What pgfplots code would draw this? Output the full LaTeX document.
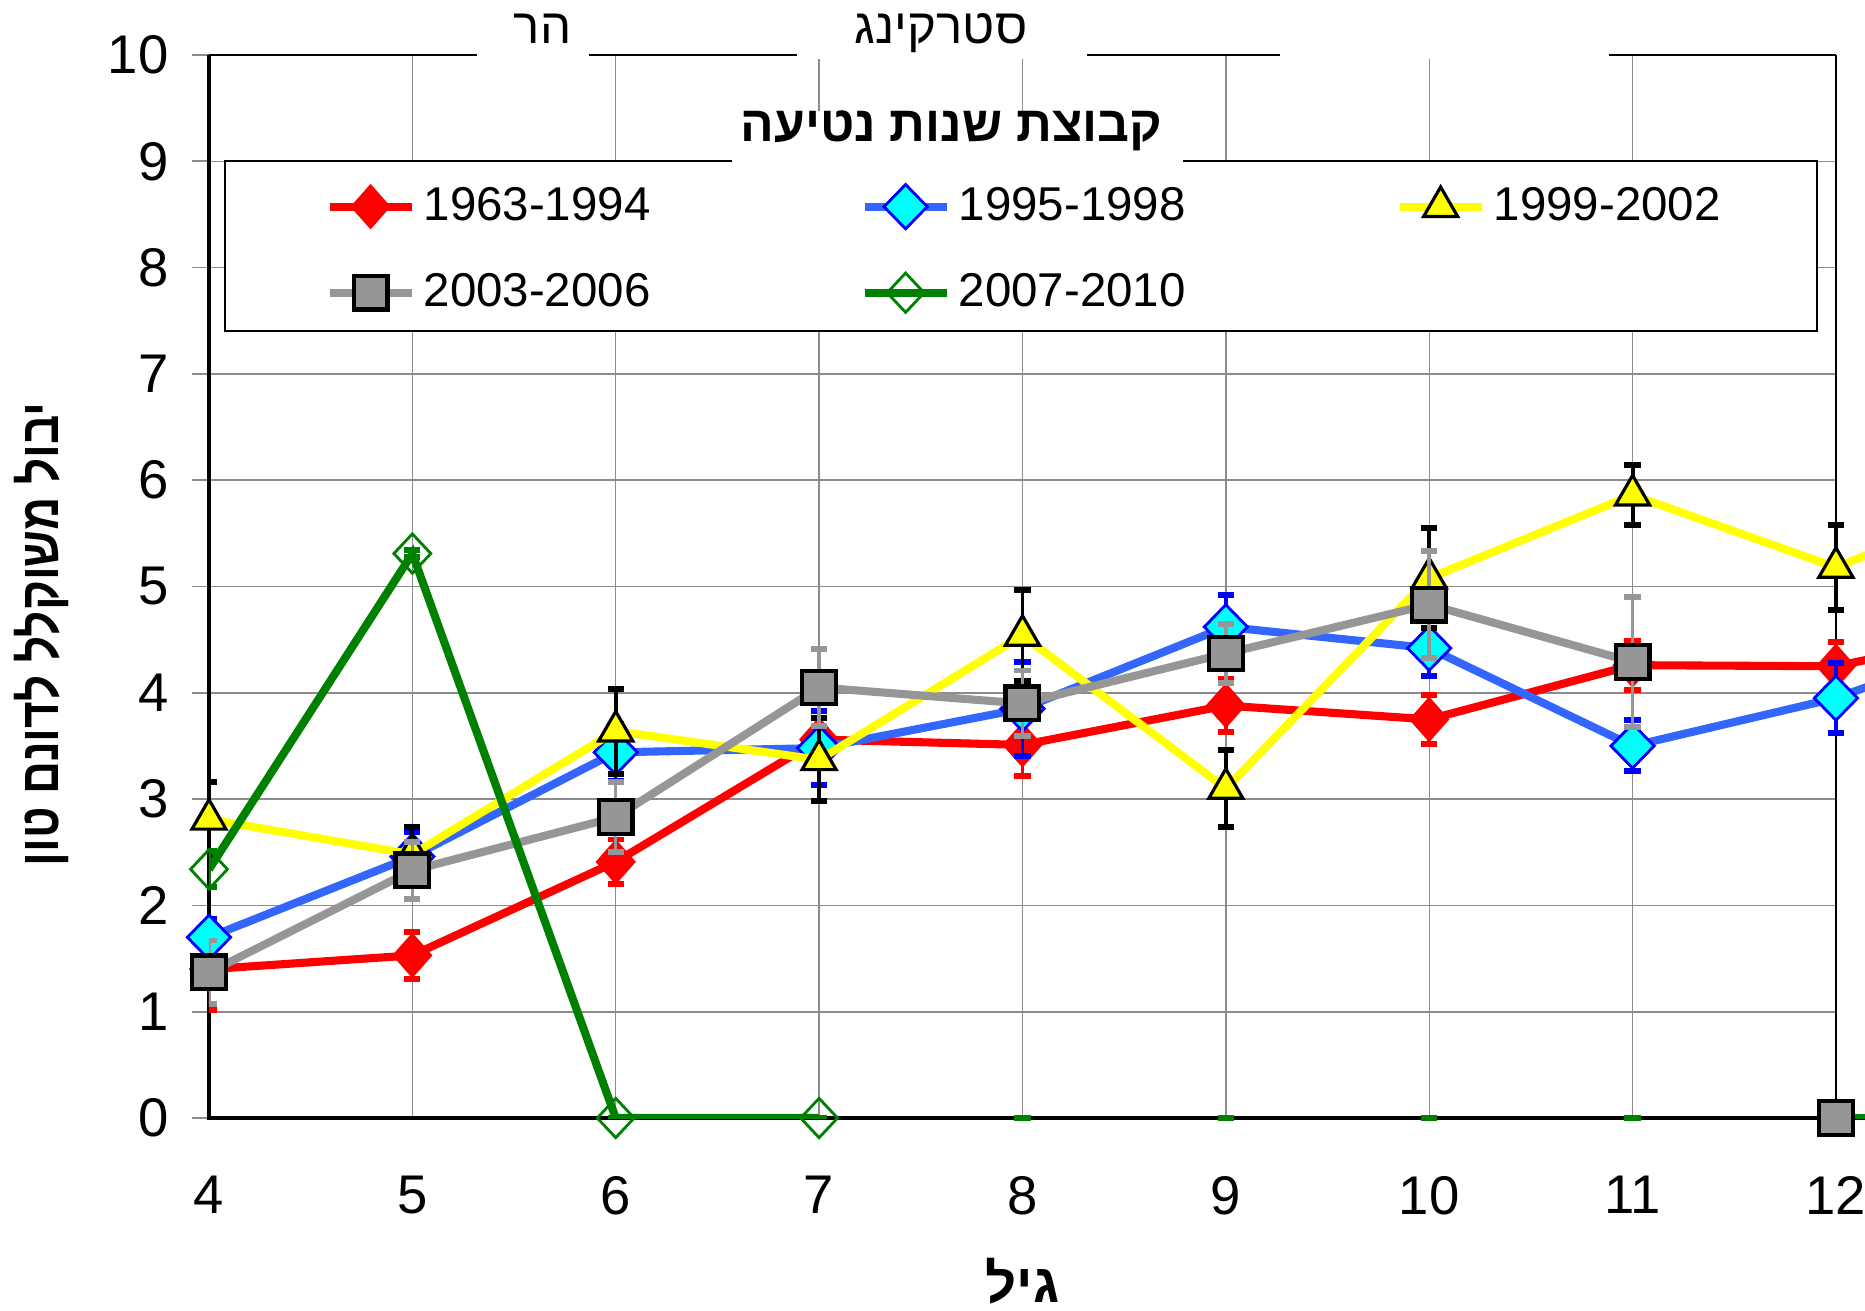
\documentclass[border=0pt]{standalone}
\usepackage{fontspec}
\setmainfont{Liberation Sans}
\newfontfamily\heb[Script=Hebrew]{Liberation Sans}
\usepackage{pgfplots}
\pgfplotsset{compat=1.18}
\TeXXeTstate=1
\definecolor{sred}{HTML}{FF0000}
\definecolor{sblue}{HTML}{3366FF}
\definecolor{scyan}{HTML}{00FFFF}
\definecolor{sdblue}{HTML}{0000FF}
\definecolor{syellow}{HTML}{FFFF00}
\definecolor{sgray}{HTML}{969696}
\definecolor{sgreen}{HTML}{008000}
\definecolor{gridc}{HTML}{8C8C8C}
\begin{document}
\begin{tikzpicture}
\begin{axis}[
  scale only axis, width=16.56cm, height=10.63cm,
  xmin=4, xmax=12.143, ymin=0, ymax=10,
  axis line style={draw=none},
  xtick={4,...,12}, ytick={0,...,10},
  xtick style={draw=none},
  ytick pos=left,
  ytick style={gridc, line width=0.5pt},
  tick align=outside, major tick length=0.17cm,
  ticklabel style={font=\fontsize{15.5}{18}\selectfont},
  /pgf/number format/assume math mode=true,
  xticklabel style={yshift=-0.29cm},
  yticklabel style={xshift=-0.11cm},
  clip mode=individual,
  legend columns=3,
  legend cell align=left,
  legend style={draw=none, fill=none, at={(axis cs:4.573,8.82)}, anchor=north west,
    inner sep=0pt, outer sep=0pt, row sep=0.336cm, column sep=0.01cm,
    font=\fontsize{13.5}{16}\selectfont,
    /tikz/every even column/.append style={column sep=2.03cm}},
  legend image code/.code={\draw[mark repeat=2, mark phase=2] plot coordinates {(0cm,0cm) (0.41cm,0cm) (0.82cm,0cm)};},
]
% grid
\pgfplotsinvokeforeach{1,...,9}{\draw[gridc, line width=0.45pt] (axis cs:4,#1) -- (axis cs:12,#1);}
\pgfplotsinvokeforeach{5,...,11}{\draw[gridc, line width=0.4pt] (axis cs:#1,0) -- (axis cs:#1,10);}
% borders
\draw[black, line width=0.8pt] (axis cs:4,10) -- (axis cs:12,10);
\draw[black, line width=0.6pt] (axis cs:12,0) -- (axis cs:12,10);
\draw[black, line width=0.9pt] (axis cs:4,10) -- (axis cs:4,0) -- (axis cs:12.143,0);

% red
\addplot[sred, line width=2.3pt, forget plot] coordinates {(12,4.25) (13,4.65)};
\addplot[sred, line width=2.3pt, mark=diamond*, mark size=6.1pt,
  mark options={solid, fill=sred, draw=sred, line width=0.5pt, xscale=1.18},
  error bars/.cd, y dir=both, y explicit,
  error bar style={line width=1pt, sred},
  error mark options={rotate=90, line width=1.7pt, mark size=2.3pt, sred}]
coordinates {(4,1.40)+-(0,0.38) (5,1.53)+-(0,0.22) (6,2.41)+-(0,0.21) (7,3.56)+-(0,0.20) (8,3.51)+-(0,0.29) (9,3.88)+-(0,0.25) (10,3.75)+-(0,0.23) (11,4.26)+-(0,0.23) (12,4.25)+-(0,0.23)};
\addlegendentry{1963-1994}

% blue
\addplot[sblue, line width=2.3pt, forget plot] coordinates {(12,3.95) (13,4.64)};
\addplot[sblue, line width=2.3pt, mark=diamond*, mark size=6.3pt,
  mark options={solid, fill=scyan, draw=sdblue, line width=0.8pt, xscale=1.3},
  error bars/.cd, y dir=both, y explicit,
  error bar style={line width=1pt, sdblue},
  error mark options={rotate=90, line width=1.7pt, mark size=2.3pt, sdblue}]
coordinates {(4,1.70)+-(0,0.17) (5,2.46)+-(0,0.23) (6,3.44)+-(0,0.27) (7,3.48)+-(0,0.35) (8,3.85)+-(0,0.44) (9,4.62)+-(0,0.30) (10,4.42)+-(0,0.26) (11,3.50)+-(0,0.24) (12,3.95)+-(0,0.33)};
\addlegendentry{1995-1998}

% yellow
\addplot[syellow, line width=2.3pt, forget plot] coordinates {(12,5.18) (13,5.95)};
\addplot[syellow, line width=2.3pt, mark=triangle*, mark size=5.6pt,
  mark options={solid, fill=syellow, draw=black, line width=0.9pt},
  error bars/.cd, y dir=both, y explicit,
  error bar style={line width=1.1pt, black},
  error mark options={rotate=90, line width=1.7pt, mark size=2.3pt, black}]
coordinates {(4,2.81)+-(0,0.35) (5,2.48)+-(0,0.26) (6,3.64)+-(0,0.40) (7,3.37)+-(0,0.39) (8,4.54)+-(0,0.43) (9,3.10)+-(0,0.36) (10,5.08)+-(0,0.47) (11,5.86)+-(0,0.28) (12,5.18)+-(0,0.40)};
\addlegendentry{1999-2002}

% gray
\addplot[sgray, line width=2.3pt, mark=square*, mark size=4.8pt,
  mark options={solid, fill=sgray, draw=black, line width=1.2pt},
  error bars/.cd, y dir=both, y explicit,
  error bar style={line width=1pt, sgray},
  error mark options={rotate=90, line width=1.7pt, mark size=2.3pt, sgray}]
coordinates {(4,1.37)+-(0,0.30) (5,2.33)+-(0,0.27) (6,2.83)+-(0,0.33) (7,4.05)+-(0,0.36) (8,3.90)+-(0,0.31) (9,4.37)+-(0,0.28) (10,4.83)+-(0,0.50) (11,4.29)+-(0,0.61)};
\addlegendentry{2003-2006}

% green
\addplot[sgreen, line width=2.3pt, forget plot] coordinates {(12,0) (13,0)};
\addplot[sgreen, line width=2.3pt, mark=diamond, mark size=5.6pt,
  mark options={solid, draw=sgreen, fill=none, line width=0.8pt, xscale=1.25},
  error bars/.cd, y dir=both, y explicit,
  error bar style={line width=1pt, sgreen},
  error mark options={rotate=90, line width=1.7pt, mark size=2.3pt, sgreen}]
coordinates {(4,2.34)+-(0,0.17) (5,5.31)+-(0,0.03) (6,0)+-(0,0) (7,0)+-(0,0)};
\addlegendentry{2007-2010}
\addplot[only marks, mark=-, mark size=2.3pt, mark options={sgreen, line width=1.7pt}, forget plot]
coordinates {(8,0) (9,0) (10,0) (11,0)};
\addplot[only marks, mark=square*, mark size=4.8pt, mark options={fill=sgray, draw=black, line width=1.2pt}, forget plot]
coordinates {(12,0)};

% legend box and title
\draw[black, line width=0.6pt, fill=white] (axis cs:4.077,7.40) rectangle (axis cs:11.909,9.0);
\fill[white] (axis cs:6.573,8.97) rectangle (axis cs:8.789,9.47);
\node[anchor=base, font=\bfseries\fontsize{14.2}{16}\selectfont\heb] at (axis cs:7.651,9.19) {\beginR קבוצת שנות נטיעה\endR};

% top title texts
\fill[white] (axis cs:5.318,9.96) rectangle (axis cs:5.868,10.05);
\fill[white] (axis cs:6.89,9.96) rectangle (axis cs:8.317,10.05);
\fill[white] (axis cs:9.265,9.96) rectangle (axis cs:10.883,10.05);
\node[anchor=base, font=\fontsize{14}{16}\selectfont\heb] at (axis cs:5.64,10.108) {\beginR הר\endR};
\node[anchor=base, font=\fontsize{14}{16}\selectfont\heb] at (axis cs:7.60,10.108) {\beginR סטרקינג\endR};

% axis labels
\node[anchor=base, font=\bfseries\fontsize{15.5}{18}\selectfont\heb] at (axis cs:8,-1.738) {\beginR גיל\endR};
\node[rotate=90, xscale=0.84, font=\bfseries\fontsize{15.5}{18}\selectfont\heb] at (axis cs:3.174,4.547) {\beginR יבול משוקלל לדונם טון\endR};
\end{axis}
\pgfresetboundingbox
\path ([xshift=-2.09cm, yshift=-1.927cm]current axis.south west) rectangle ([yshift=0.55cm]current axis.north east);
\end{tikzpicture}
\end{document}
